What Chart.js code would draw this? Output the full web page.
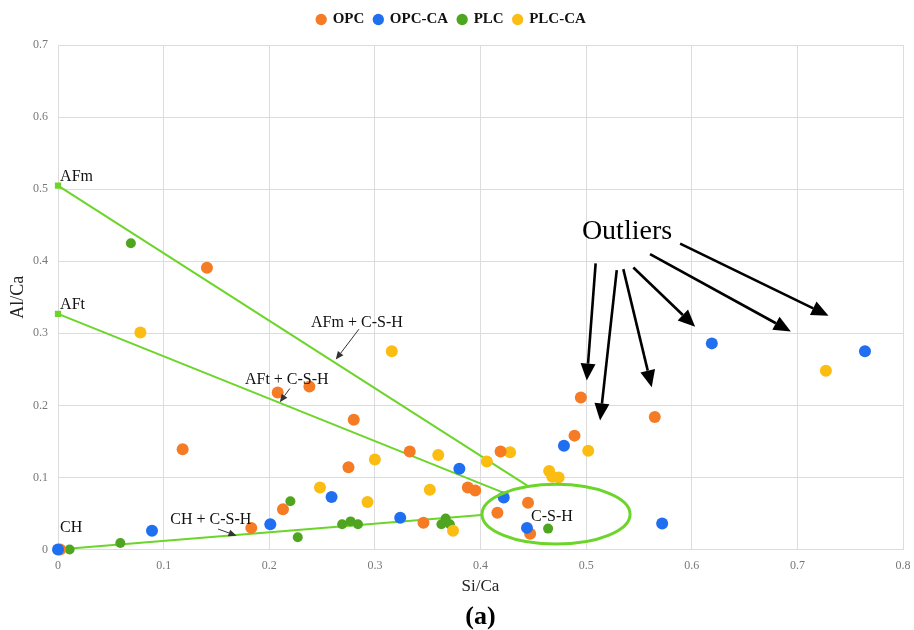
<!DOCTYPE html>
<html>
<head>
<meta charset="utf-8">
<script src="https://cdn.jsdelivr.net/npm/chart.js@4/dist/chart.umd.min.js"></script>
<style>
  html, body { margin: 0; padding: 0; background: #fff; }
  #wrap { width: 914px; height: 630px; position: relative; }
</style>
</head>
<body>
<div id="wrap"><canvas id="chart" width="914" height="630"></canvas></div>
<script>
// Si/Ca (x) vs Al/Ca (y) atomic ratios per binder
const seriesNames = ['OPC', 'OPC-CA', 'PLC', 'PLC-CA'];
const seriesColors = ['#f57b25', '#1f6ff0', '#4fa520', '#fbbd12'];

const opc = [
  [0.002, 0.000], [0.118, 0.139], [0.141, 0.391], [0.183, 0.030], [0.208, 0.218],
  [0.213, 0.056], [0.238, 0.226], [0.275, 0.114], [0.280, 0.180], [0.333, 0.136],
  [0.346, 0.037], [0.388, 0.086], [0.395, 0.082], [0.416, 0.051], [0.419, 0.136],
  [0.445, 0.065], [0.447, 0.022], [0.489, 0.158], [0.495, 0.211], [0.565, 0.184]
];
const opcCa = [
  [0.000, 0.000], [0.089, 0.026], [0.201, 0.035], [0.259, 0.073], [0.324, 0.044],
  [0.380, 0.112], [0.422, 0.072], [0.444, 0.030], [0.479, 0.144], [0.572, 0.036],
  [0.619, 0.286], [0.764, 0.275]
];
const plc = [
  [0.011, 0.000], [0.059, 0.009], [0.069, 0.425], [0.220, 0.067], [0.227, 0.017],
  [0.269, 0.035], [0.277, 0.039], [0.284, 0.035], [0.363, 0.035], [0.367, 0.043],
  [0.371, 0.035], [0.464, 0.029]
];
const plcCa = [
  [0.078, 0.301], [0.248, 0.086], [0.293, 0.066], [0.300, 0.125], [0.316, 0.275],
  [0.352, 0.083], [0.360, 0.131], [0.374, 0.026], [0.406, 0.122], [0.428, 0.135],
  [0.465, 0.109], [0.468, 0.101], [0.474, 0.100], [0.502, 0.137], [0.727, 0.248]
];

// Tie lines from the pure phases towards the C-S-H region
const afmLine = [[0, 0.505], [0.445, 0.088]];
const aftLine = [[0, 0.327], [0.4216, 0.079]];
const chLine  = [[0, 0.000], [0.401, 0.048]];

// Axis ranges and tick spacing
const xRange = [0, 0.8];
const yRange = [0, 0.7];
const tickStep = 0.1;

const SERIF = "'Liberation Serif', 'Times New Roman', serif";
Chart.defaults.font.family = SERIF;

const toPts = arr => arr.map(([x, y]) => ({ x, y }));
// OPC-CA is listed first so its markers sit on top where series overlap
const drawOrder = [1, 0, 3, 2];
const pointSeries = [opc, opcCa, plc, plcCa].map((arr, i) => ({
  label: seriesNames[i],
  data: toPts(arr),
  backgroundColor: seriesColors[i],
  borderColor: seriesColors[i],
  borderWidth: 0,
  pointRadius: i === 2 ? 5 : 6,
  pointHoverRadius: 6,
  pointStyle: 'circle',
  showLine: false,
  clip: false,
  order: drawOrder[i]
}));

const LINE_GREEN = '#6cd52a';
const lineSeries = [afmLine, aftLine, chLine].map((arr, i) => ({
  label: ['AFm', 'AFt', 'CH'][i],
  data: toPts(arr),
  showLine: true,
  borderColor: LINE_GREEN,
  backgroundColor: LINE_GREEN,
  borderWidth: 2,
  pointStyle: 'rect',
  pointRadius: [3, 0],
  fill: false,
  clip: false,
  order: 8
}));

// Keeps the legend band at a fixed height above the plot
const legendBand = {
  id: 'legendBand',
  beforeInit(chart) {
    const fit = chart.legend.fit;
    chart.legend.fit = function () { fit.call(this); this.height = 43; };
  }
};

function arrow(ctx, x1, y1, x2, y2, width, headLen, headWidth, color) {
  const ang = Math.atan2(y2 - y1, x2 - x1);
  const bx = x2 - headLen * Math.cos(ang), by = y2 - headLen * Math.sin(ang);
  ctx.strokeStyle = color; ctx.fillStyle = color; ctx.lineWidth = width;
  ctx.beginPath(); ctx.moveTo(x1, y1); ctx.lineTo(bx, by); ctx.stroke();
  const nx = -Math.sin(ang) * headWidth / 2, ny = Math.cos(ang) * headWidth / 2;
  ctx.beginPath();
  ctx.moveTo(x2, y2); ctx.lineTo(bx + nx, by + ny); ctx.lineTo(bx - nx, by - ny);
  ctx.closePath(); ctx.fill();
}

// Phase labels, the C-S-H ellipse and the outlier call-outs (data units)
const phaseLabels = [
  { text: 'AFm', x: 0.002, y: 0.517, align: 'left' },
  { text: 'AFt', x: 0.002, y: 0.340, align: 'left' },
  { text: 'CH', x: 0.002, y: 0.030, align: 'left' },
  { text: 'AFm + C-S-H', x: 0.283, y: 0.315, align: 'center' },
  { text: 'AFt + C-S-H', x: 0.2166, y: 0.236, align: 'center' },
  { text: 'CH + C-S-H', x: 0.1447, y: 0.041, align: 'center' },
  { text: 'C-S-H', x: 0.4677, y: 0.045, align: 'center' }
];
const pointerArrows = [
  [0.2849, 0.3057, 0.263, 0.2635],
  [0.2195, 0.2234, 0.210, 0.2044],
  [0.1516, 0.0284, 0.169, 0.0191]
];
const outlierArrows = [
  [0.509, 0.397, 0.5006, 0.2344],
  [0.529, 0.3876, 0.5132, 0.1791],
  [0.5352, 0.389, 0.5621, 0.2252],
  [0.5447, 0.3912, 0.6032, 0.3091],
  [0.5605, 0.4097, 0.6938, 0.3026],
  [0.589, 0.4243, 0.7295, 0.3243]
];
const cshEllipse = { cx: 0.4715, cy: 0.049, rx: 0.0701, ry: 0.0415 };

const annotations = {
  id: 'annotations',
  afterDatasetsDraw(chart) {
    const { ctx, scales: { x, y } } = chart;
    const px = v => x.getPixelForValue(v), py = v => y.getPixelForValue(v);
    ctx.save();

    // C-S-H region
    const ecx = px(cshEllipse.cx), ecy = py(cshEllipse.cy);
    const erx = px(cshEllipse.cx + cshEllipse.rx) - ecx;
    const ery = ecy - py(cshEllipse.cy + cshEllipse.ry);
    ctx.beginPath();
    ctx.ellipse(ecx, ecy, erx, ery, 0, 0, Math.PI * 2);
    ctx.strokeStyle = LINE_GREEN; ctx.lineWidth = 3; ctx.stroke();

    ctx.fillStyle = '#111';
    ctx.font = '16px ' + SERIF;
    ctx.textBaseline = 'middle';
    phaseLabels.forEach(l => {
      ctx.textAlign = l.align;
      ctx.fillText(l.text, px(l.x), py(l.y));
    });

    pointerArrows.forEach(a => arrow(ctx, px(a[0]), py(a[1]), px(a[2]), py(a[3]), 1, 8, 7, '#333'));

    ctx.fillStyle = '#000';
    ctx.font = '28px ' + SERIF;
    ctx.textAlign = 'center';
    ctx.fillText('Outliers', px(0.5387), py(0.4405));
    outlierArrows.forEach(a => arrow(ctx, px(a[0]), py(a[1]), px(a[2]), py(a[3]), 2.6, 17, 15, '#000'));

    // panel tag
    ctx.font = 'bold 26px ' + SERIF;
    ctx.textAlign = 'center';
    ctx.fillText('(a)', (chart.chartArea.left + chart.chartArea.right) / 2, 617);
    ctx.restore();
  }
};

new Chart(document.getElementById('chart'), {
  type: 'scatter',
  data: { datasets: [...pointSeries, ...lineSeries] },
  options: {
    responsive: false,
    devicePixelRatio: 1,
    animation: false,
    layout: { padding: { top: 2, right: 11, bottom: 0, left: 0 } },
    plugins: {
      tooltip: { enabled: false },
      legend: {
        position: 'top',
        labels: {
          filter: item => seriesNames.includes(item.text),
          sort: (a, b) => a.datasetIndex - b.datasetIndex,
          usePointStyle: true,
          pointStyle: 'circle',
          boxWidth: 8,
          boxHeight: 8,
          padding: 10,
          color: '#111',
          font: { family: SERIF, size: 15, weight: 'bold' }
        }
      }
    },
    scales: {
      x: {
        type: 'linear',
        min: xRange[0], max: xRange[1],
        ticks: { stepSize: tickStep, color: '#777', font: { size: 12 }, padding: 9 },
        grid: { color: '#dcdcdc', drawTicks: false },
        border: { color: '#dcdcdc' },
        title: { display: true, text: 'Si/Ca', color: '#222', font: { size: 17 }, padding: { top: 4, bottom: 33 } },
        afterFit(scale) { scale.height = 80.5; scale.paddingRight = 0; scale.paddingLeft = 0; }
      },
      y: {
        type: 'linear',
        min: yRange[0], max: yRange[1],
        ticks: { stepSize: tickStep, color: '#777', font: { size: 12 }, padding: 10 },
        grid: { color: '#dcdcdc', drawTicks: false },
        border: { color: '#dcdcdc' },
        title: { display: true, text: 'Al/Ca', color: '#222', font: { size: 18 }, padding: { top: 7, bottom: 0 } },
        afterFit(scale) { scale.width = 58; scale.paddingTop = 0; scale.paddingBottom = 0; }
      }
    }
  },
  plugins: [legendBand, annotations]
});
</script>
</body>
</html>
